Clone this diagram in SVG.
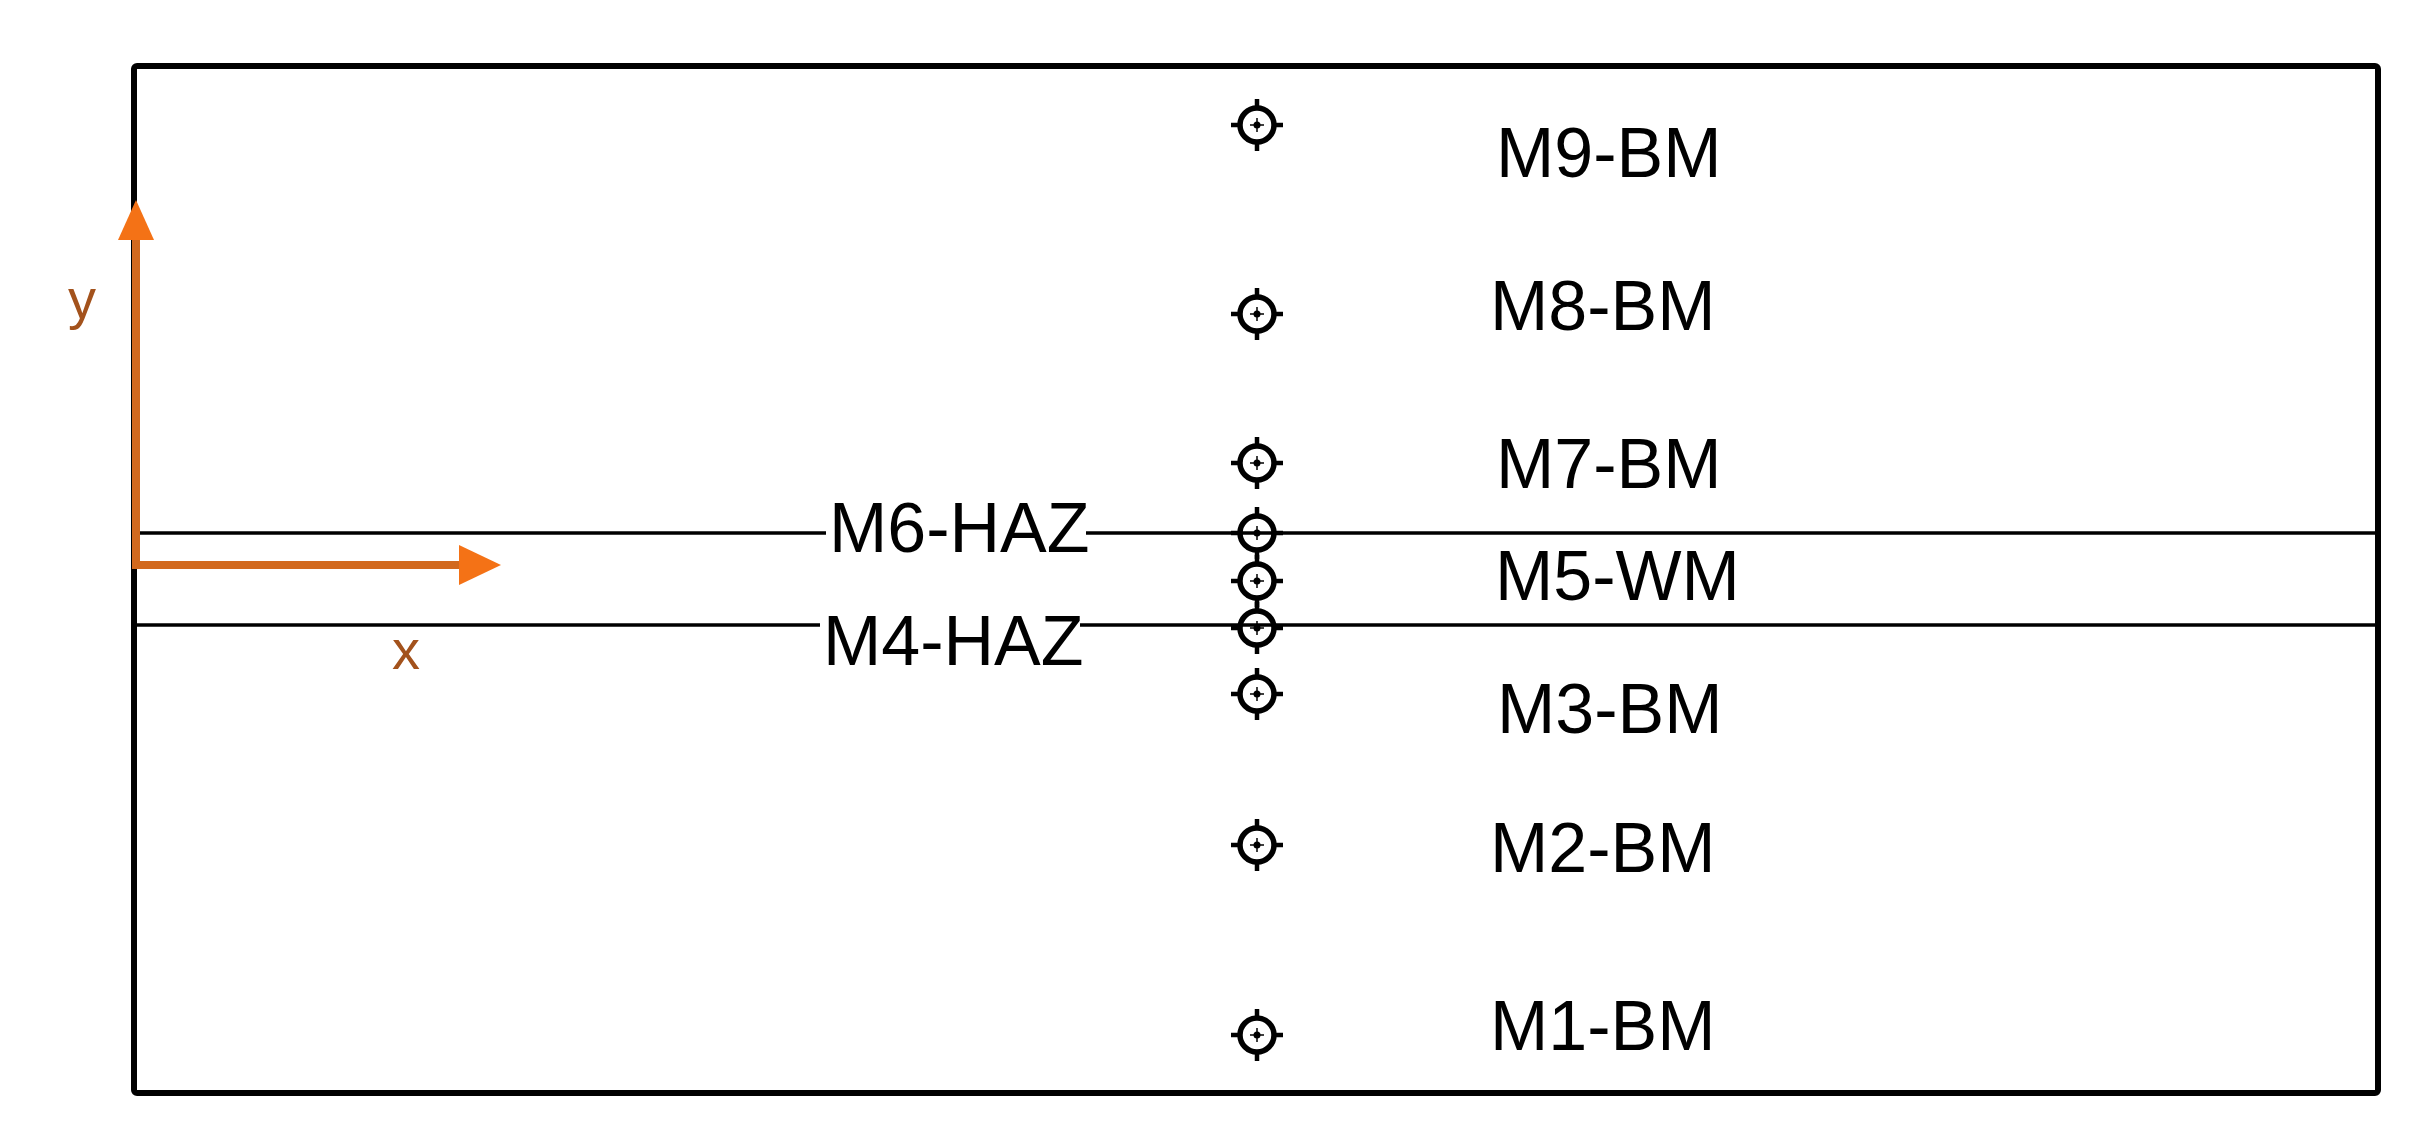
<svg xmlns="http://www.w3.org/2000/svg" xmlns:xlink="http://www.w3.org/1999/xlink" width="2409" height="1122" viewBox="0 0 2409 1122">
<style>
.lbl{font-family:"Liberation Sans",Arial,sans-serif;font-size:70px;fill:#000}
.ax{font-family:"Liberation Sans",Arial,sans-serif;font-size:56px;fill:#A3521C}
.thin{stroke:#000;stroke-width:3.5;fill:none}
.axis{stroke:#D2691E;stroke-width:8;fill:none}
.head{fill:#F47216}
</style>
<defs>
<g id="target">
<circle cx="0" cy="0" r="17" fill="none" stroke="#000" stroke-width="5.5"/>
<line x1="0" y1="-26" x2="0" y2="-19" stroke="#000" stroke-width="4.5"/>
<line x1="0" y1="19" x2="0" y2="26" stroke="#000" stroke-width="4.5"/>
<line x1="-26" y1="0" x2="-19" y2="0" stroke="#000" stroke-width="4.5"/>
<line x1="19" y1="0" x2="26" y2="0" stroke="#000" stroke-width="4.5"/>
<circle cx="0" cy="0" r="3.5" fill="#000"/>
<line x1="0" y1="-7" x2="0" y2="7" stroke="#000" stroke-width="1.5"/>
<line x1="-7" y1="0" x2="7" y2="0" stroke="#000" stroke-width="1.5"/>
</g>
</defs>
<rect width="2409" height="1122" fill="#fff"/>
<g id="frame">
<rect x="134" y="66" width="2244" height="1027" rx="3" fill="none" stroke="#000" stroke-width="6"/>
</g>
<g id="connectors">
<line class="thin" x1="136" y1="533" x2="2378" y2="533"/>
<line class="thin" x1="136" y1="625" x2="2378" y2="625"/>
<line class="axis" x1="136" y1="567" x2="136" y2="236"/>
<polygon class="head" points="136,200 118,240 154,240"/>
<line class="axis" x1="132" y1="565" x2="462" y2="565"/>
<polygon class="head" points="501,565 459,545 459,585"/>
</g>
<g id="axis-labels">
<text class="ax" x="82" y="318" text-anchor="middle">y</text>
<text class="ax" x="406" y="669" text-anchor="middle">x</text>
</g>
<g id="M9"><use xlink:href="#target" x="1257" y="125"/><text class="lbl" x="1496" y="177">M9-BM</text></g>
<g id="M8"><use xlink:href="#target" x="1257" y="314"/><text class="lbl" x="1490" y="330">M8-BM</text></g>
<g id="M7"><use xlink:href="#target" x="1257" y="463"/><text class="lbl" x="1496" y="488">M7-BM</text></g>
<g id="M6"><rect x="826" y="498" width="260" height="62" fill="#fff"/><use xlink:href="#target" x="1257" y="533"/><text class="lbl" x="829" y="552">M6-HAZ</text></g>
<g id="M5"><use xlink:href="#target" x="1257" y="581"/><text class="lbl" x="1495" y="600">M5-WM</text></g>
<g id="M4"><rect x="820" y="608" width="260" height="62" fill="#fff"/><use xlink:href="#target" x="1257" y="628"/><text class="lbl" x="823" y="665">M4-HAZ</text></g>
<g id="M3"><use xlink:href="#target" x="1257" y="694"/><text class="lbl" x="1497" y="733">M3-BM</text></g>
<g id="M2"><use xlink:href="#target" x="1257" y="845"/><text class="lbl" x="1490" y="872">M2-BM</text></g>
<g id="M1"><use xlink:href="#target" x="1257" y="1035"/><text class="lbl" x="1490" y="1050">M1-BM</text></g>
</svg>
